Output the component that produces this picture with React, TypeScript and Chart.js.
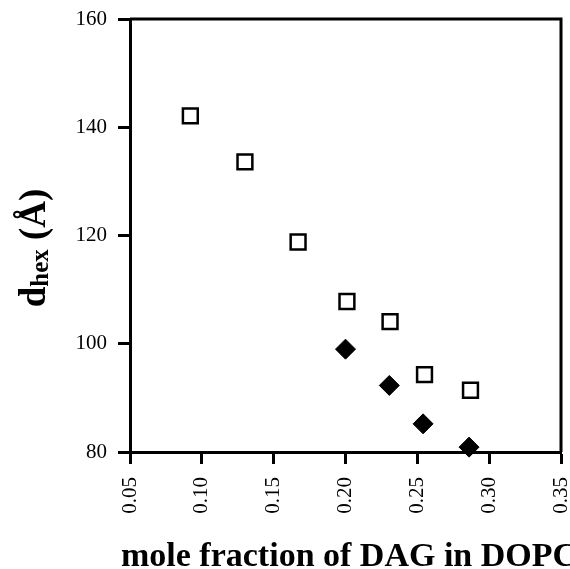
import React, { useEffect, useRef } from "react";
import { Chart, registerables } from "chart.js";

Chart.register(...registerables);

// DOPC + DAG (open squares)
const openX = [0.092, 0.130, 0.167, 0.201, 0.231, 0.255, 0.287];
const openY = [142.1, 133.6, 118.8, 107.8, 104.1, 94.3, 91.4];
// filled diamonds
const filledX = [0.200, 0.2305, 0.254, 0.286];
const filledY = [99.0, 92.3, 85.2, 80.9];

const xTicks = [0.05, 0.1, 0.15, 0.2, 0.25, 0.3, 0.35];
const yTicks = [80, 100, 120, 140, 160];

const xTitle = "mole fraction of DAG in DOPC";
const yTitleMain = "d";
const yTitleSub = "hex";
const yTitleTail = " (Å)";

const SERIF = "'Liberation Serif', 'Times New Roman', serif";

const framePlugin = {
  id: "frame",
  afterDraw(chart: any) {
    const { ctx, chartArea } = chart;
    ctx.save();
    ctx.strokeStyle = "#000";
    ctx.lineWidth = 3;
    ctx.beginPath();
    ctx.moveTo(chartArea.left, chartArea.top);
    ctx.lineTo(chartArea.right, chartArea.top);
    ctx.lineTo(chartArea.right, chartArea.bottom);
    ctx.stroke();
    ctx.restore();
  },
};

const titlesPlugin = {
  id: "titles",
  afterDraw(chart: any) {
    const { ctx, chartArea } = chart;
    // x title (runs past the right edge, as in the source)
    ctx.save();
    ctx.fillStyle = "#000";
    ctx.font = `bold 34px ${SERIF}`;
    ctx.textAlign = "left";
    ctx.textBaseline = "alphabetic";
    ctx.fillText(xTitle, chartArea.left - 9, 566);
    ctx.restore();

    // y title with subscript
    const mainFont = `bold 37px ${SERIF}`;
    const subFont = `bold 25px ${SERIF}`;
    ctx.save();
    ctx.fillStyle = "#000";
    ctx.textBaseline = "alphabetic";
    ctx.textAlign = "left";
    ctx.font = mainFont;
    const wMain = ctx.measureText(yTitleMain).width;
    const wTail = ctx.measureText(yTitleTail).width;
    ctx.font = subFont;
    const wSub = ctx.measureText(yTitleSub).width;
    const total = wMain + wSub + wTail;
    const cy = 248;
    const baseX = 45;
    ctx.translate(baseX, cy + total / 2);
    ctx.rotate(-Math.PI / 2);
    ctx.font = mainFont;
    ctx.fillText(yTitleMain, 0, 0);
    ctx.font = subFont;
    ctx.fillText(yTitleSub, wMain, 3);
    ctx.font = mainFont;
    ctx.fillText(yTitleTail, wMain + wSub, 0);
    ctx.restore();
  },
};

export default function App() {
  const ref = useRef<HTMLCanvasElement | null>(null);

  useEffect(() => {
    if (!ref.current) return;
    const zeroX = (scale: any) => {
      scale.paddingLeft = 0;
      scale.paddingRight = 0;
    };
    const zeroY = (scale: any) => {
      scale.paddingTop = 0;
      scale.paddingBottom = 0;
    };
    const chart = new Chart(ref.current, {
      type: "scatter",
      data: {
        datasets: [
          {
            label: "open",
            data: openX.map((x, i) => ({ x, y: openY[i] })),
            pointStyle: "rect",
            pointRadius: 10.5,
            pointBorderWidth: 2.5,
            pointBorderColor: "#000",
            pointBackgroundColor: "#fff",
            clip: false as any,
          },
          {
            label: "filled",
            data: filledX.map((x, i) => ({ x, y: filledY[i] })),
            pointStyle: "rectRot",
            pointRadius: 10,
            pointBorderWidth: 1,
            pointBorderColor: "#000",
            pointBackgroundColor: "#000",
            clip: false as any,
          },
        ],
      },
      options: {
        animation: false,
        responsive: false,
        layout: { padding: { top: 19, right: 0, left: 0, bottom: 0 } },
        plugins: {
          legend: { display: false },
          tooltip: { enabled: false },
        },
        scales: {
          x: {
            type: "linear",
            min: 0.05,
            max: 0.35,
            afterBuildTicks: (scale: any) => {
              scale.ticks = xTicks.map((v) => ({ value: v }));
            },
            afterFit: (scale: any) => {
              scale.height = 117;
              zeroX(scale);
            },
            afterUpdate: zeroX,
            ticks: {
              minRotation: 90,
              maxRotation: 90,
              padding: 13,
              color: "#000",
              font: { family: SERIF, size: 21 },
              callback: (v: any) => Number(v).toFixed(2),
            },
            grid: {
              drawOnChartArea: false,
              drawTicks: true,
              tickLength: 12,
              tickWidth: 3,
              tickColor: "#000",
            },
            border: { display: true, width: 3, color: "#000" },
            title: { display: false },
          },
          y: {
            type: "linear",
            min: 80,
            max: 160,
            afterBuildTicks: (scale: any) => {
              scale.ticks = yTicks.map((v) => ({ value: v }));
            },
            afterFit: (scale: any) => {
              scale.width = 130;
              zeroY(scale);
            },
            afterUpdate: zeroY,
            ticks: {
              padding: 11,
              color: "#000",
              font: { family: SERIF, size: 21 },
              callback: (v: any) => String(v),
            },
            grid: {
              drawOnChartArea: false,
              drawTicks: true,
              tickLength: 12,
              tickWidth: 3,
              tickColor: "#000",
            },
            border: { display: true, width: 3, color: "#000" },
            title: { display: false },
          },
        },
      },
      plugins: [framePlugin, titlesPlugin],
    });
    return () => chart.destroy();
  }, []);

  return (
    <div
      style={{
        position: "fixed",
        left: 0,
        top: 0,
        width: 570,
        height: 569,
        overflow: "hidden",
        background: "#fff",
      }}
    >
      <canvas ref={ref} width={574} height={569} style={{ display: "block" }} />
    </div>
  );
}
